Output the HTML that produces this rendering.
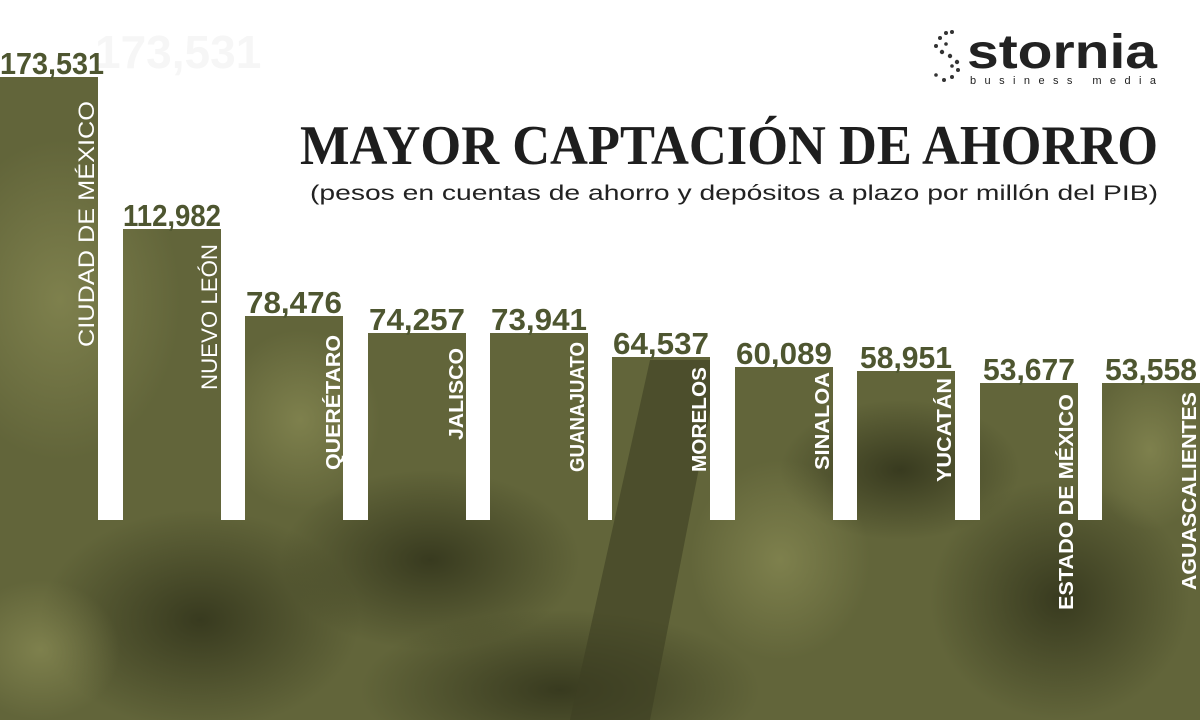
<!DOCTYPE html>
<html><head><meta charset="utf-8"><style>
html,body{margin:0;width:1200px;height:720px;overflow:hidden;background:#fff}
svg{display:block}
</style></head><body>
<svg width="1200" height="720" viewBox="0 0 1200 720" xmlns="http://www.w3.org/2000/svg">
<defs>
<clipPath id="c">
<rect x="0" y="77" width="98" height="450"/>
<rect x="123" y="229" width="98" height="300"/>
<rect x="245" y="316" width="98" height="220"/>
<rect x="368" y="333" width="98" height="200"/>
<rect x="490" y="333" width="98" height="200"/>
<rect x="612" y="357" width="98" height="200"/>
<rect x="735" y="367" width="98" height="200"/>
<rect x="857" y="371" width="98" height="200"/>
<rect x="980" y="383" width="98" height="200"/>
<rect x="1102" y="383" width="98" height="200"/>
<rect x="0" y="520" width="1200" height="200"/>
</clipPath>
<radialGradient id="d1" cx="0.5" cy="0.5" r="0.5"><stop offset="0" stop-color="#2a2c16" stop-opacity="0.75"/><stop offset="1" stop-color="#2a2c16" stop-opacity="0"/></radialGradient>
<radialGradient id="l1" cx="0.5" cy="0.5" r="0.5"><stop offset="0" stop-color="#8a8c55" stop-opacity="0.7"/><stop offset="1" stop-color="#8a8c55" stop-opacity="0"/></radialGradient>
</defs>
<text x="95" y="68" font-family="Liberation Sans, sans-serif" font-weight="bold" font-size="46" fill="#f6f6f6">173,531</text>
<g clip-path="url(#c)">
<rect x="0" y="0" width="1200" height="720" fill="#62653a"/>
<ellipse cx="60" cy="300" rx="120" ry="160" fill="url(#l1)"/>
<ellipse cx="200" cy="620" rx="160" ry="110" fill="url(#d1)"/>
<ellipse cx="430" cy="560" rx="150" ry="90" fill="url(#d1)"/>
<ellipse cx="560" cy="690" rx="200" ry="80" fill="url(#d1)"/>
<polygon points="650,360 720,360 650,720 570,720" fill="#3e4023" opacity="0.6"/>
<ellipse cx="900" cy="470" rx="120" ry="70" fill="url(#d1)"/>
<ellipse cx="1060" cy="600" rx="130" ry="120" fill="url(#d1)"/>
<ellipse cx="780" cy="560" rx="90" ry="100" fill="url(#l1)"/>
<ellipse cx="300" cy="420" rx="80" ry="90" fill="url(#l1)"/>
<ellipse cx="1150" cy="450" rx="60" ry="80" fill="url(#l1)"/>
<ellipse cx="40" cy="650" rx="80" ry="70" fill="url(#l1)"/>
</g>
<g font-family="Liberation Sans, sans-serif" font-weight="bold" font-size="31" fill="#4e5630" text-anchor="middle">
<text x="52" y="74" textLength="104" lengthAdjust="spacingAndGlyphs">173,531</text>
<text x="172" y="226" textLength="98" lengthAdjust="spacingAndGlyphs">112,982</text>
<text x="294" y="313" textLength="96" lengthAdjust="spacingAndGlyphs">78,476</text>
<text x="417" y="330" textLength="96" lengthAdjust="spacingAndGlyphs">74,257</text>
<text x="539" y="330" textLength="96" lengthAdjust="spacingAndGlyphs">73,941</text>
<text x="661" y="354" textLength="96" lengthAdjust="spacingAndGlyphs">64,537</text>
<text x="784" y="364" textLength="96" lengthAdjust="spacingAndGlyphs">60,089</text>
<text x="906" y="368" textLength="92" lengthAdjust="spacingAndGlyphs">58,951</text>
<text x="1029" y="380" textLength="92" lengthAdjust="spacingAndGlyphs">53,677</text>
<text x="1151" y="380" textLength="92" lengthAdjust="spacingAndGlyphs">53,558</text>
</g>
<g font-family="Liberation Sans, sans-serif" font-size="22" fill="#fff">
<text transform="translate(94,347) rotate(-90)" textLength="246" lengthAdjust="spacingAndGlyphs">CIUDAD DE MÉXICO</text>
<text transform="translate(217,390) rotate(-90)" textLength="146" lengthAdjust="spacingAndGlyphs">NUEVO LEÓN</text>
<text transform="translate(340,470) rotate(-90)" font-weight="bold" font-size="20" textLength="135" lengthAdjust="spacingAndGlyphs">QUERÉTARO</text>
<text transform="translate(463,440) rotate(-90)" font-weight="bold" font-size="20" textLength="92" lengthAdjust="spacingAndGlyphs">JALISCO</text>
<text transform="translate(584,472) rotate(-90)" font-weight="bold" font-size="20" textLength="130" lengthAdjust="spacingAndGlyphs">GUANAJUATO</text>
<text transform="translate(706,472) rotate(-90)" font-weight="bold" font-size="20" textLength="105" lengthAdjust="spacingAndGlyphs">MORELOS</text>
<text transform="translate(829,470) rotate(-90)" font-weight="bold" font-size="20" textLength="98" lengthAdjust="spacingAndGlyphs">SINALOA</text>
<text transform="translate(951,482) rotate(-90)" font-weight="bold" font-size="20" textLength="104" lengthAdjust="spacingAndGlyphs">YUCATÁN</text>
<text transform="translate(1073,610) rotate(-90)" font-weight="bold" font-size="20" textLength="216" lengthAdjust="spacingAndGlyphs">ESTADO DE MÉXICO</text>
<text transform="translate(1196,590) rotate(-90)" font-weight="bold" font-size="20" textLength="198" lengthAdjust="spacingAndGlyphs">AGUASCALIENTES</text>
</g>
<text x="1158" y="164" text-anchor="end" font-family="Liberation Serif, serif" font-weight="bold" font-size="56" fill="#1e1e1e" textLength="858" lengthAdjust="spacingAndGlyphs">MAYOR CAPTACIÓN DE AHORRO</text>
<text x="1158" y="200" text-anchor="end" font-family="Liberation Sans, sans-serif" font-size="21" fill="#222" textLength="848" lengthAdjust="spacingAndGlyphs">(pesos en cuentas de ahorro y depósitos a plazo por millón del PIB)</text>
<g fill="#333">
<circle cx="940" cy="38" r="2"/><circle cx="946" cy="33" r="2"/><circle cx="952" cy="32" r="2"/><circle cx="936" cy="46" r="2"/><circle cx="942" cy="52" r="2.2"/><circle cx="950" cy="56" r="2.2"/><circle cx="957" cy="62" r="2.2"/><circle cx="958" cy="70" r="2"/><circle cx="952" cy="77" r="2"/><circle cx="944" cy="80" r="2"/><circle cx="936" cy="75" r="1.8"/><circle cx="946" cy="44" r="1.8"/><circle cx="952" cy="66" r="1.8"/>
</g>
<text x="967" y="68" font-family="Liberation Sans, sans-serif" font-weight="bold" font-size="48" fill="#222" textLength="190" lengthAdjust="spacingAndGlyphs">stornia</text>
<text x="970" y="84" font-family="Liberation Sans, sans-serif" font-size="11" fill="#222" textLength="186" lengthAdjust="spacing">business media</text>
</svg>
</body></html>
